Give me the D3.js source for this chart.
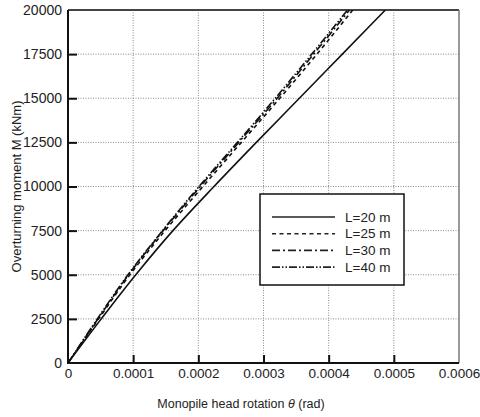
<!DOCTYPE html>
<html>
<head>
<meta charset="utf-8">
<script src="https://cdn.jsdelivr.net/npm/d3@7"></script>
<style>
  html, body { margin: 0; padding: 0; background: #fff; }
  svg { display: block; font-family: "Liberation Sans", Arial, sans-serif; }
</style>
</head>
<body>
<svg id="chart" width="480" height="417"></svg>
<script>
// ---- data ----
const moments = [0, 2500, 5000, 7500, 10000, 12500, 15000, 17500, 20000];
const thetaL20 = [0, 0.000051, 0.000104, 0.000161, 0.000224, 0.000289, 0.000355, 0.000421, 0.000487];
const thetaL25 = [0, 0.000047, 0.000095, 0.000149, 0.000207, 0.000266, 0.000325, 0.000382, 0.000437];
const thetaL30 = [0, 0.000046, 0.000093, 0.000146, 0.000203, 0.000262, 0.000321, 0.000377, 0.000432];
const thetaL40 = [0, 0.000045, 0.000092, 0.000145, 0.000201, 0.000260, 0.000318, 0.000374, 0.000429];
const seriesNames = ["L=20 m", "L=25 m", "L=30 m", "L=40 m"];
const xTicks = [0, 0.0001, 0.0002, 0.0003, 0.0004, 0.0005, 0.0006];
const xTickLabels = ["0", "0.0001", "0.0002", "0.0003", "0.0004", "0.0005", "0.0006"];
const yTicks = [0, 2500, 5000, 7500, 10000, 12500, 15000, 17500, 20000];

const series = [
  { name: seriesNames[0], theta: thetaL20, dash: null },
  { name: seriesNames[1], theta: thetaL25, dash: "4,3.5" },
  { name: seriesNames[2], theta: thetaL30, dash: "8,3,2,3" },
  { name: seriesNames[3], theta: thetaL40, dash: "8,2,1.5,2,1.5,2" }
];

// ---- layout ----
const W = 480, H = 417;
const m = { left: 68, top: 10, right: 21, bottom: 54 };
const iw = W - m.left - m.right, ih = H - m.top - m.bottom;

const svg = d3.select("#chart");
const g = svg.append("g").attr("transform", `translate(${m.left},${m.top})`);

const x = d3.scaleLinear().domain([0, 0.0006]).range([0, iw]);
const y = d3.scaleLinear().domain([0, 20000]).range([ih, 0]);

// clip
svg.append("defs").append("clipPath").attr("id", "clip")
  .append("rect").attr("x", 0).attr("y", 0).attr("width", iw).attr("height", ih);

// grid
g.append("g").selectAll("line.vg").data(xTicks.slice(1, -1)).join("line")
  .attr("x1", d => x(d)).attr("x2", d => x(d)).attr("y1", 0).attr("y2", ih)
  .attr("stroke", "#8a8a8a").attr("stroke-width", 1).attr("stroke-dasharray", "1,1.5");
g.append("g").selectAll("line.hg").data(yTicks.slice(1, -1)).join("line")
  .attr("y1", d => y(d)).attr("y2", d => y(d)).attr("x1", 0).attr("x2", iw)
  .attr("stroke", "#8a8a8a").attr("stroke-width", 1).attr("stroke-dasharray", "1,1.5");

// axes (ticks inward)
const xAxis = d3.axisBottom(x).tickValues(xTicks).tickSize(-8).tickPadding(5)
  .tickFormat((d, i) => xTickLabels[i]);
const yAxis = d3.axisLeft(y).tickValues(yTicks).tickSize(-9).tickPadding(6)
  .tickFormat(d => d3.format("d")(d));

const gx = g.append("g").attr("transform", `translate(0,${ih})`).call(xAxis);
const gy = g.append("g").call(yAxis);
[gx, gy].forEach(a => {
  a.select(".domain").remove();
  a.selectAll(".tick line").attr("stroke", "#111").attr("stroke-width", 2);
  a.selectAll(".tick text").attr("fill", "#222")
    .attr("font-family", "Liberation Sans, Arial, sans-serif");
});
gx.selectAll(".tick text").attr("font-size", 13.5);
gy.selectAll(".tick text").attr("font-size", 14);
gy.selectAll(".tick").filter(d => d === 0 || d === 20000).select("line").remove();
gx.selectAll(".tick").filter(d => d === 0 || d === 0.0006).select("line").remove();

// frame
g.append("line").attr("x1", 0).attr("x2", iw).attr("y1", 0).attr("y2", 0)
  .attr("stroke", "#444").attr("stroke-width", 2);
g.append("line").attr("x1", iw).attr("x2", iw).attr("y1", 0).attr("y2", ih)
  .attr("stroke", "#777").attr("stroke-width", 1.5);
g.append("line").attr("x1", 0).attr("x2", 0).attr("y1", 0).attr("y2", ih + 1)
  .attr("stroke", "#111").attr("stroke-width", 2);
g.append("line").attr("x1", -1).attr("x2", iw).attr("y1", ih).attr("y2", ih)
  .attr("stroke", "#111").attr("stroke-width", 2);

// curves
const line = d3.line()
  .x(d => x(d[0])).y(d => y(d[1]))
  .curve(d3.curveMonotoneY);
const curves = g.append("g").attr("clip-path", "url(#clip)");
series.forEach(s => {
  const pts = s.theta.map((t, i) => [t, moments[i]]);
  curves.append("path").datum(pts).attr("d", line)
    .attr("fill", "none").attr("stroke", "#111").attr("stroke-width", 1.6)
    .attr("stroke-dasharray", s.dash);
});

// legend
const lg = svg.append("g").attr("transform", "translate(260,194)");
lg.append("rect").attr("x", 0).attr("y", 0).attr("width", 144).attr("height", 91)
  .attr("fill", "#fff").attr("stroke", "#111").attr("stroke-width", 1.5);
series.forEach((s, i) => {
  const yy = 23 + i * 16.7;
  lg.append("line").attr("x1", 12).attr("x2", 75).attr("y1", yy).attr("y2", yy)
    .attr("stroke", "#222").attr("stroke-width", 1.6).attr("stroke-dasharray", s.dash);
  lg.append("text").attr("x", 85).attr("y", yy).attr("dy", "0.35em")
    .attr("font-size", 13.5).attr("fill", "#222").text(s.name);
});

// axis titles
svg.append("text").attr("x", 241).attr("y", 408)
  .attr("text-anchor", "middle").attr("font-size", 12.5).attr("fill", "#222")
  .call(t => {
    t.append("tspan").text("Monopile head rotation ");
    t.append("tspan").attr("font-style", "italic").text("θ");
    t.append("tspan").text(" (rad)");
  });
svg.append("text")
  .attr("transform", `translate(21,${m.top + ih / 2}) rotate(-90)`)
  .attr("text-anchor", "middle").attr("font-size", 13).attr("fill", "#222")
  .text("Overturning moment M (kNm)");
</script>
</body>
</html>
